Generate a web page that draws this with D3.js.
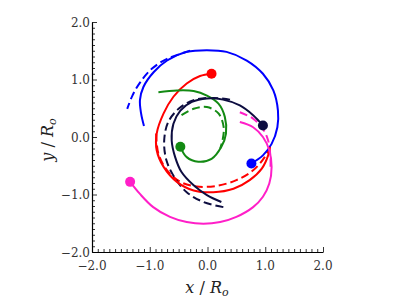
<!DOCTYPE html>
<html lang="en">
<head>
<meta charset="UTF-8">
<title>orbits</title>
<script src="https://d3js.org/d3.v7.min.js"></script>
<style>
  body { margin: 0; background: #fff; }
  text { font-family: "DejaVu Serif", "Liberation Serif", serif; }
</style>
</head>
<body>
<script>
// tracks in units of R_o, [x, y]; first point of each solid track carries the dot
var blueSolid = [[0.76,-0.46],[0.96,-0.32],[1.11,-0.12],[1.21,0.17],[1.22,0.46],[1.14,0.81],[0.96,1.10],[0.68,1.33],[0.33,1.48],[-0.01,1.51],[-0.36,1.48],[-0.70,1.33],[-0.93,1.13],[-1.11,0.87],[-1.17,0.64],[-1.15,0.41],[-1.10,0.19]];
var blueDash = [[-0.30,1.50],[-0.70,1.36],[-0.96,1.19],[-1.16,0.96],[-1.30,0.72],[-1.39,0.49]];
var redSolid = [[0.07,1.10],[-0.13,1.06],[-0.36,0.93],[-0.59,0.70],[-0.76,0.41],[-0.88,0.06],[-0.88,-0.23],[-0.76,-0.52],[-0.53,-0.78],[-0.24,-0.93],[0.10,-0.96],[0.45,-0.90],[0.73,-0.75],[0.94,-0.55],[1.05,-0.32],[1.08,-0.17]];
var redDash = [[-0.89,0.06],[-0.85,-0.29],[-0.70,-0.58],[-0.47,-0.78],[-0.19,-0.86],[0.16,-0.85],[0.50,-0.75],[0.79,-0.58],[0.99,-0.35],[1.08,-0.17]];
var greenSolid = [[-0.47,-0.17],[-0.36,-0.35],[-0.16,-0.43],[0.07,-0.38],[0.24,-0.17],[0.32,0.06],[0.30,0.35],[0.19,0.58],[-0.01,0.72],[-0.24,0.80],[-0.53,0.81],[-0.85,0.78]];
var greenDash = [[-0.45,0.38],[-0.24,0.49],[-0.01,0.52],[0.19,0.41],[0.28,0.17],[0.26,-0.06],[0.22,-0.20]];
var navySolid = [[0.96,0.20],[0.79,0.38],[0.56,0.55],[0.27,0.65],[-0.01,0.67],[-0.27,0.61],[-0.47,0.46],[-0.59,0.23],[-0.62,-0.06],[-0.56,-0.35],[-0.45,-0.61],[-0.24,-0.84],[-0.01,-1.01],[0.24,-1.13]];
var navyDash = [[0.39,0.65],[0.10,0.68],[-0.24,0.64],[-0.50,0.49],[-0.68,0.26],[-0.75,-0.06],[-0.71,-0.41],[-0.56,-0.72],[-0.36,-0.96],[-0.07,-1.13],[0.33,-1.23]];
var pinkSolid = [[-1.34,-0.78],[-1.17,-0.99],[-0.94,-1.22],[-0.65,-1.39],[-0.36,-1.48],[-0.07,-1.51],[0.22,-1.48],[0.50,-1.39],[0.79,-1.22],[0.96,-1.04],[1.07,-0.81],[1.11,-0.52],[1.07,-0.23],[0.96,0.00],[0.79,0.17],[0.56,0.26]];
var pinkDash = [[0.56,0.43],[0.79,0.32],[0.96,0.14],[1.05,-0.06],[1.09,-0.35],[1.09,-0.58]];

var majorTicks = [-2.0, -1.0, 0.0, 1.0, 2.0];

var tracks = [
  { solid: blueSolid, dash: blueDash, color: "#0000ff" },
  { solid: redSolid, dash: redDash, color: "#ff0000" },
  { solid: greenSolid, dash: greenDash, color: "#138a13" },
  { solid: navySolid, dash: navyDash, color: "#0d0d40" },
  { solid: pinkSolid, dash: pinkDash, color: "#ff1fc8" }
];

var width = 399, height = 302;
var x = d3.scaleLinear().domain([-2, 2]).range([92, 323]);
var y = d3.scaleLinear().domain([-2, 2]).range([252, 22]);

var svg = d3.select("body").append("svg")
  .attr("width", width)
  .attr("height", height);

var line = d3.line()
  .x(function (d) { return x(d[0]); })
  .y(function (d) { return y(d[1]); })
  .curve(d3.curveCatmullRom);

var minor = d3.range(-20, 21).map(function (i) { return i / 10; });

// axes: ticks point inward
var xAxis = d3.axisBottom(x).tickValues(minor).tickSizeInner(-3).tickSizeOuter(0).tickFormat("");
var yAxis = d3.axisLeft(y).tickValues(minor).tickSizeInner(-3).tickSizeOuter(0).tickFormat("");

var gx = svg.append("g").attr("transform", "translate(0," + y(-2) + ")").call(xAxis);
var gy = svg.append("g").attr("transform", "translate(" + x(-2) + ",0)").call(yAxis);
gx.selectAll(".tick line").filter(function (d) { return majorTicks.indexOf(d) >= 0; }).attr("y2", -5);
gy.selectAll(".tick line").filter(function (d) { return majorTicks.indexOf(d) >= 0; }).attr("x2", 5);
svg.selectAll(".domain").attr("stroke", "#000").attr("stroke-width", 1.2);
svg.selectAll(".tick line").attr("stroke", "#000").attr("stroke-width", 0.8);

function fmt(v) { return (v < 0 ? "\u2212" : "") + Math.abs(v).toFixed(1); }

svg.selectAll("text.xl").data(majorTicks).enter().append("text")
  .attr("class", "xl")
  .attr("x", function (d) { return x(d); })
  .attr("y", 270)
  .attr("text-anchor", "middle")
  .attr("font-size", 12)
  .attr("fill", "#333")
  .text(fmt);

svg.selectAll("text.yl").data(majorTicks).enter().append("text")
  .attr("class", "yl")
  .attr("x", 90)
  .attr("y", function (d) { return y(d) + 4.5; })
  .attr("text-anchor", "end")
  .attr("font-size", 12)
  .attr("fill", "#333")
  .text(fmt);

// axis titles
var xt = svg.append("text")
  .attr("x", 207).attr("y", 293)
  .attr("text-anchor", "middle")
  .attr("font-size", 16)
  .attr("fill", "#222");
xt.append("tspan").attr("font-style", "italic").text("x");
xt.append("tspan").text(" / ");
xt.append("tspan").attr("font-style", "italic").text("R");
xt.append("tspan").attr("font-style", "italic").attr("font-size", 11).attr("dy", 3).text("o");

var yt = svg.append("text")
  .attr("transform", "translate(53,140) rotate(-90)")
  .attr("text-anchor", "middle")
  .attr("font-size", 16)
  .attr("fill", "#222");
yt.append("tspan").attr("font-style", "italic").text("y");
yt.append("tspan").text(" / ");
yt.append("tspan").attr("font-style", "italic").text("R");
yt.append("tspan").attr("font-style", "italic").attr("font-size", 11).attr("dy", 3).text("o");

// dashed tracks under solid ones
svg.selectAll("path.dash").data(tracks).enter().append("path")
  .attr("class", "dash")
  .attr("d", function (d) { return line(d.dash); })
  .attr("fill", "none")
  .attr("stroke", function (d) { return d.color; })
  .attr("stroke-width", 2)
  .attr("stroke-dasharray", "8,4");

svg.selectAll("path.solid").data(tracks).enter().append("path")
  .attr("class", "solid")
  .attr("d", function (d) { return line(d.solid); })
  .attr("fill", "none")
  .attr("stroke", function (d) { return d.color; })
  .attr("stroke-width", 2);

svg.selectAll("circle.dot").data(tracks).enter().append("circle")
  .attr("class", "dot")
  .attr("cx", function (d) { return x(d.solid[0][0]); })
  .attr("cy", function (d) { return y(d.solid[0][1]); })
  .attr("r", 5)
  .attr("fill", function (d) { return d.color; });
</script>
</body>
</html>
